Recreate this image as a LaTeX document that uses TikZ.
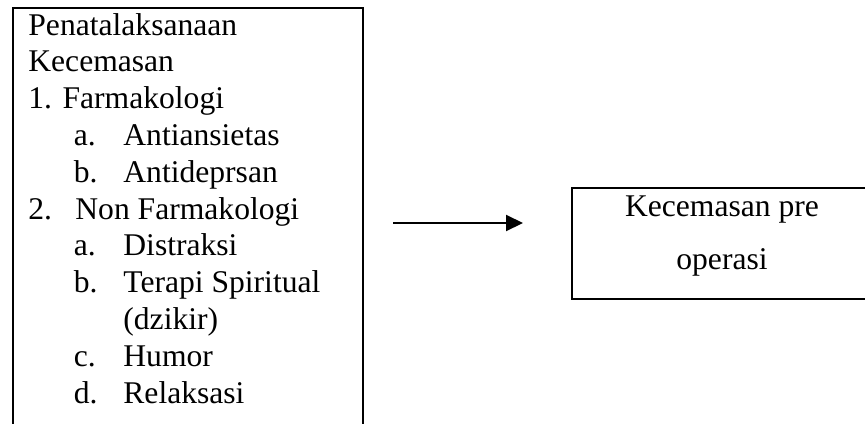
\documentclass[tikz,border=0pt]{standalone}
\usepackage{fontspec}
\setmainfont{Liberation Serif}
\usetikzlibrary{arrows.meta}
\begin{document}
\begin{tikzpicture}[x=0.5pt,y=-0.5pt,
  txt/.style={anchor=base west, inner sep=0pt, font=\fontsize{15.8pt}{18.4pt}\selectfont},
  ctxt/.style={anchor=base, inner sep=0pt, font=\fontsize{15.8pt}{18.4pt}\selectfont},
  boxframe/.style={draw=black, line width=0.85pt, rectangle, inner sep=0pt, anchor=north west},
  flowarrow/.style={draw=black, line width=1pt, -{Triangle[length=8.5pt,width=8pt]}}]
\useasboundingbox (0,0) rectangle (865,423);
% boxes (left box open at bottom, right box open at right: both run past the page)
\node[boxframe, minimum width=175pt, minimum height=225pt] (leftbox) at (12,7) {};
\node[boxframe, minimum width=151pt, minimum height=55.5pt] (rightbox) at (571,187) {};
% left box text
\node[txt] (l0) at (28,35) {Penatalaksanaan};
\node[txt] (l1) at (28,71.8) {Kecemasan};
\node[txt] (l2) at (28,108.6) {1. Farmakologi};
\node[txt] (l3a) at (73.5,145.4) {a.};
\node[txt] (l3) at (123,145.4) {Antiansietas};
\node[txt] (l4a) at (73.5,182.2) {b.};
\node[txt] (l4) at (123,182.2) {Antideprsan};
\node[txt] (l5a) at (28,219) {2.};
\node[txt] (l5) at (75,219) {Non Farmakologi};
\node[txt] (l6a) at (73.5,255.8) {a.};
\node[txt] (l6) at (123,255.8) {Distraksi};
\node[txt] (l7a) at (73.5,292.6) {b.};
\node[txt] (l7) at (123,292.6) {Terapi Spiritual};
\node[txt] (l8) at (123,329.4) {(dzikir)};
\node[txt] (l9a) at (73.5,366.2) {c.};
\node[txt] (l9) at (123,366.2) {Humor};
\node[txt] (l10a) at (73.5,403) {d.};
\node[txt] (l10) at (123,403) {Relaksasi};
% right box text
\node[ctxt] (r1) at (722,216.7) {Kecemasan pre};
\node[ctxt] (r2) at (722,269) {operasi};
% arrow
\coordinate (astart) at (393,223);
\coordinate (aend) at (523,223);
\draw[flowarrow] (astart) -- (aend);
\end{tikzpicture}
\end{document}
